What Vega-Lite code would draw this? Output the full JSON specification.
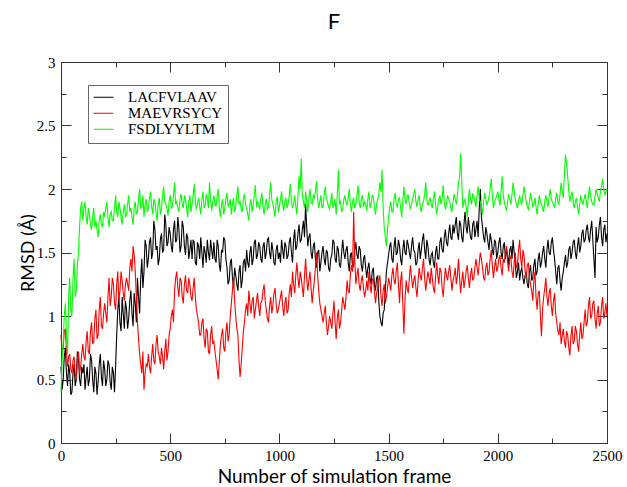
{
"$schema": "https://vega.github.io/schema/vega-lite/v6.json",
"width": 546, "height": 381,
"autosize": {"type": "none"},
"padding": {"left": 61, "top": 62, "right": 20, "bottom": 44},
"background": "white",
"title": {"text": "F", "font": "Lato", "fontSize": 22, "fontWeight": "normal", "anchor": "middle", "offset": 21, "color": "black"},
"config": {
  "view": {"stroke": "#333", "strokeWidth": 1},
  "axis": {"grid": false, "domainColor": "#333", "tickColor": "#333", "labelColor": "black", "labelFont": "Liberation Serif", "labelFontSize": 15, "titleFont": "Lato", "titleFontSize": 18, "titleFontWeight": "normal", "titleColor": "black", "labelFlush": false, "labelOverlap": false}
},
"resolve": {"axis": {"x": "independent", "y": "independent"}},
"datasets": {
"L": [{"x":0,"y":0.6},{"x":10,"y":0.5},{"x":20,"y":0.75},{"x":30,"y":0.45},{"x":40,"y":0.55},{"x":50,"y":0.4},{"x":60,"y":0.62},{"x":70,"y":0.5},{"x":80,"y":0.68},{"x":90,"y":0.45},
{"x":100,"y":0.55},{"x":110,"y":0.42},{"x":120,"y":0.6},{"x":130,"y":0.5},{"x":140,"y":0.65},{"x":150,"y":0.4},{"x":160,"y":0.55},{"x":170,"y":0.48},{"x":180,"y":0.7},{"x":190,"y":0.45},
{"x":200,"y":0.58},{"x":210,"y":0.5},{"x":220,"y":0.62},{"x":230,"y":0.42},{"x":240,"y":0.55},{"x":250,"y":0.6},{"x":260,"y":1.05},{"x":270,"y":0.95},{"x":280,"y":1.15},{"x":290,"y":0.9},
{"x":300,"y":1.05},{"x":310,"y":0.98},{"x":320,"y":1.2},{"x":330,"y":0.92},{"x":340,"y":1.1},{"x":350,"y":1.3},{"x":360,"y":1.02},{"x":370,"y":1.45},{"x":380,"y":1.35},{"x":390,"y":1.55},
{"x":400,"y":1.45},{"x":410,"y":1.62},{"x":420,"y":1.5},{"x":430,"y":1.68},{"x":440,"y":1.55},{"x":450,"y":1.45},{"x":460,"y":1.65},{"x":470,"y":1.52},{"x":480,"y":1.72},{"x":490,"y":1.58},
{"x":500,"y":1.65},{"x":510,"y":1.5},{"x":520,"y":1.75},{"x":530,"y":1.6},{"x":540,"y":1.68},{"x":550,"y":1.55},{"x":560,"y":1.7},{"x":570,"y":1.48},{"x":580,"y":1.62},{"x":590,"y":1.52},
{"x":600,"y":1.45},{"x":610,"y":1.58},{"x":620,"y":1.4},{"x":630,"y":1.55},{"x":640,"y":1.62},{"x":650,"y":1.38},{"x":660,"y":1.5},{"x":670,"y":1.6},{"x":680,"y":1.44},{"x":690,"y":1.52},
{"x":700,"y":1.58},{"x":710,"y":1.42},{"x":720,"y":1.55},{"x":730,"y":1.35},{"x":740,"y":1.5},{"x":750,"y":1.6},{"x":760,"y":1.38},{"x":770,"y":1.28},{"x":780,"y":1.45},{"x":790,"y":1.22},
{"x":800,"y":1.32},{"x":810,"y":1.2},{"x":820,"y":1.4},{"x":830,"y":1.28},{"x":840,"y":1.45},{"x":850,"y":1.52},{"x":860,"y":1.38},{"x":870,"y":1.55},{"x":880,"y":1.45},{"x":890,"y":1.6},
{"x":900,"y":1.48},{"x":910,"y":1.55},{"x":920,"y":1.42},{"x":930,"y":1.58},{"x":940,"y":1.5},{"x":950,"y":1.62},{"x":960,"y":1.45},{"x":970,"y":1.52},{"x":980,"y":1.4},{"x":990,"y":1.56},
{"x":1000,"y":1.5},{"x":1010,"y":1.6},{"x":1020,"y":1.45},{"x":1030,"y":1.55},{"x":1040,"y":1.48},{"x":1050,"y":1.62},{"x":1060,"y":1.42},{"x":1070,"y":1.68},{"x":1080,"y":1.55},{"x":1090,"y":1.72},
{"x":1100,"y":1.6},{"x":1110,"y":1.75},{"x":1120,"y":1.88},{"x":1130,"y":1.55},{"x":1140,"y":1.65},{"x":1150,"y":1.45},{"x":1160,"y":1.58},{"x":1170,"y":1.38},{"x":1180,"y":1.52},{"x":1190,"y":1.42},
{"x":1200,"y":1.55},{"x":1210,"y":1.4},{"x":1220,"y":1.5},{"x":1230,"y":1.35},{"x":1240,"y":1.48},{"x":1250,"y":1.58},{"x":1260,"y":1.42},{"x":1270,"y":1.52},{"x":1280,"y":1.38},{"x":1290,"y":1.6},
{"x":1300,"y":1.45},{"x":1310,"y":1.55},{"x":1320,"y":1.35},{"x":1330,"y":1.5},{"x":1340,"y":1.4},{"x":1350,"y":1.58},{"x":1360,"y":1.45},{"x":1370,"y":1.52},{"x":1380,"y":1.35},{"x":1390,"y":1.48},
{"x":1400,"y":1.3},{"x":1410,"y":1.42},{"x":1420,"y":1.25},{"x":1430,"y":1.38},{"x":1440,"y":1.2},{"x":1450,"y":1.32},{"x":1460,"y":1.0},{"x":1470,"y":0.92},{"x":1480,"y":1.05},{"x":1490,"y":1.35},
{"x":1500,"y":1.48},{"x":1510,"y":1.58},{"x":1520,"y":1.42},{"x":1530,"y":1.62},{"x":1540,"y":1.5},{"x":1550,"y":1.55},{"x":1560,"y":1.4},{"x":1570,"y":1.6},{"x":1580,"y":1.48},{"x":1590,"y":1.56},
{"x":1600,"y":1.45},{"x":1610,"y":1.62},{"x":1620,"y":1.5},{"x":1630,"y":1.42},{"x":1640,"y":1.58},{"x":1650,"y":1.52},{"x":1660,"y":1.65},{"x":1670,"y":1.45},{"x":1680,"y":1.55},{"x":1690,"y":1.4},
{"x":1700,"y":1.5},{"x":1710,"y":1.38},{"x":1720,"y":1.55},{"x":1730,"y":1.45},{"x":1740,"y":1.62},{"x":1750,"y":1.5},{"x":1760,"y":1.68},{"x":1770,"y":1.55},{"x":1780,"y":1.72},{"x":1790,"y":1.6},
{"x":1800,"y":1.65},{"x":1810,"y":1.78},{"x":1820,"y":1.6},{"x":1830,"y":1.72},{"x":1840,"y":1.58},{"x":1850,"y":1.82},{"x":1860,"y":1.65},{"x":1870,"y":1.7},{"x":1880,"y":1.6},{"x":1890,"y":1.75},
{"x":1900,"y":1.68},{"x":1910,"y":1.62},{"x":1920,"y":2.0},{"x":1930,"y":1.7},{"x":1940,"y":1.58},{"x":1950,"y":1.65},{"x":1960,"y":1.52},{"x":1970,"y":1.6},{"x":1980,"y":1.48},{"x":1990,"y":1.58},
{"x":2000,"y":1.5},{"x":2010,"y":1.62},{"x":2020,"y":1.45},{"x":2030,"y":1.58},{"x":2040,"y":1.52},{"x":2050,"y":1.4},{"x":2060,"y":1.55},{"x":2070,"y":1.6},{"x":2080,"y":1.42},{"x":2090,"y":1.35},
{"x":2100,"y":1.28},{"x":2110,"y":1.38},{"x":2120,"y":1.25},{"x":2130,"y":1.35},{"x":2140,"y":1.22},{"x":2150,"y":1.4},{"x":2160,"y":1.3},{"x":2170,"y":1.45},{"x":2180,"y":1.35},{"x":2190,"y":1.5},
{"x":2200,"y":1.42},{"x":2210,"y":1.55},{"x":2220,"y":1.38},{"x":2230,"y":1.6},{"x":2240,"y":1.48},{"x":2250,"y":1.62},{"x":2260,"y":1.45},{"x":2270,"y":1.25},{"x":2280,"y":1.4},{"x":2290,"y":1.2},
{"x":2300,"y":1.35},{"x":2310,"y":1.48},{"x":2320,"y":1.42},{"x":2330,"y":1.55},{"x":2340,"y":1.5},{"x":2350,"y":1.6},{"x":2360,"y":1.45},{"x":2370,"y":1.62},{"x":2380,"y":1.55},{"x":2390,"y":1.68},
{"x":2400,"y":1.6},{"x":2410,"y":1.72},{"x":2420,"y":1.58},{"x":2430,"y":1.75},{"x":2440,"y":1.45},{"x":2450,"y":1.7},{"x":2460,"y":1.62},{"x":2470,"y":1.78},{"x":2480,"y":1.55},{"x":2490,"y":1.72},
{"x":2500,"y":1.65},
{"x":5,"y":0.42},{"x":15,"y":0.68},{"x":25,"y":0.55},{"x":35,"y":0.62},{"x":45,"y":0.38},{"x":55,"y":0.55},{"x":65,"y":0.45},{"x":75,"y":0.72},{"x":85,"y":0.5},{"x":95,"y":0.6},
{"x":105,"y":0.62},{"x":115,"y":0.52},{"x":125,"y":0.45},{"x":135,"y":0.7},{"x":145,"y":0.5},{"x":155,"y":0.6},{"x":165,"y":0.38},{"x":175,"y":0.62},{"x":185,"y":0.52},{"x":195,"y":0.65},
{"x":205,"y":0.45},{"x":215,"y":0.65},{"x":225,"y":0.48},{"x":235,"y":0.6},{"x":245,"y":0.4},{"x":255,"y":0.85},{"x":265,"y":1.15},{"x":275,"y":0.88},{"x":285,"y":1.02},{"x":295,"y":1.12},
{"x":305,"y":0.9},{"x":315,"y":1.12},{"x":325,"y":1.02},{"x":335,"y":1.18},{"x":345,"y":0.95},{"x":355,"y":1.15},{"x":365,"y":1.3},{"x":375,"y":1.22},{"x":385,"y":1.6},{"x":395,"y":1.38},
{"x":405,"y":1.58},{"x":415,"y":1.45},{"x":425,"y":1.75},{"x":435,"y":1.52},{"x":445,"y":1.4},{"x":455,"y":1.6},{"x":465,"y":1.5},{"x":475,"y":1.8},{"x":485,"y":1.55},{"x":495,"y":1.7},
{"x":505,"y":1.55},{"x":515,"y":1.68},{"x":525,"y":1.58},{"x":535,"y":1.78},{"x":545,"y":1.5},{"x":555,"y":1.75},{"x":565,"y":1.55},{"x":575,"y":1.65},{"x":585,"y":1.45},{"x":595,"y":1.6},
{"x":605,"y":1.6},{"x":615,"y":1.42},{"x":625,"y":1.58},{"x":635,"y":1.45},{"x":645,"y":1.5},{"x":655,"y":1.55},{"x":665,"y":1.42},{"x":675,"y":1.5},{"x":685,"y":1.6},{"x":695,"y":1.45},
{"x":705,"y":1.45},{"x":715,"y":1.6},{"x":725,"y":1.4},{"x":735,"y":1.52},{"x":745,"y":1.62},{"x":755,"y":1.45},{"x":765,"y":1.25},{"x":775,"y":1.42},{"x":785,"y":1.3},{"x":795,"y":1.38},
{"x":805,"y":1.25},{"x":815,"y":1.35},{"x":825,"y":1.22},{"x":835,"y":1.42},{"x":845,"y":1.35},{"x":855,"y":1.42},{"x":865,"y":1.5},{"x":875,"y":1.4},{"x":885,"y":1.58},{"x":895,"y":1.45},
{"x":905,"y":1.58},{"x":915,"y":1.45},{"x":925,"y":1.55},{"x":935,"y":1.45},{"x":945,"y":1.6},{"x":955,"y":1.5},{"x":965,"y":1.58},{"x":975,"y":1.42},{"x":985,"y":1.52},{"x":995,"y":1.45},
{"x":1005,"y":1.42},{"x":1015,"y":1.52},{"x":1025,"y":1.58},{"x":1035,"y":1.45},{"x":1045,"y":1.58},{"x":1055,"y":1.5},{"x":1065,"y":1.6},{"x":1075,"y":1.52},{"x":1085,"y":1.65},{"x":1095,"y":1.58},
{"x":1105,"y":1.68},{"x":1115,"y":1.62},{"x":1125,"y":1.7},{"x":1135,"y":1.62},{"x":1145,"y":1.5},{"x":1155,"y":1.55},{"x":1165,"y":1.45},{"x":1175,"y":1.5},{"x":1185,"y":1.35},{"x":1195,"y":1.5},
{"x":1205,"y":1.45},{"x":1215,"y":1.52},{"x":1225,"y":1.38},{"x":1235,"y":1.45},{"x":1245,"y":1.6},{"x":1255,"y":1.45},{"x":1265,"y":1.55},{"x":1275,"y":1.4},{"x":1285,"y":1.5},{"x":1295,"y":1.5},
{"x":1305,"y":1.52},{"x":1315,"y":1.42},{"x":1325,"y":1.48},{"x":1335,"y":1.38},{"x":1345,"y":1.52},{"x":1355,"y":1.48},{"x":1365,"y":1.55},{"x":1375,"y":1.4},{"x":1385,"y":1.45},{"x":1395,"y":1.38},
{"x":1405,"y":1.38},{"x":1415,"y":1.3},{"x":1425,"y":1.35},{"x":1435,"y":1.25},{"x":1445,"y":1.3},{"x":1455,"y":1.12},{"x":1465,"y":0.95},{"x":1475,"y":1.02},{"x":1485,"y":1.2},{"x":1495,"y":1.42},
{"x":1505,"y":1.55},{"x":1515,"y":1.45},{"x":1525,"y":1.55},{"x":1535,"y":1.48},{"x":1545,"y":1.6},{"x":1555,"y":1.45},{"x":1565,"y":1.52},{"x":1575,"y":1.5},{"x":1585,"y":1.6},{"x":1595,"y":1.5},
{"x":1605,"y":1.55},{"x":1615,"y":1.52},{"x":1625,"y":1.4},{"x":1635,"y":1.52},{"x":1645,"y":1.45},{"x":1655,"y":1.6},{"x":1665,"y":1.52},{"x":1675,"y":1.6},{"x":1685,"y":1.45},{"x":1695,"y":1.48},
{"x":1705,"y":1.42},{"x":1715,"y":1.5},{"x":1725,"y":1.45},{"x":1735,"y":1.58},{"x":1745,"y":1.52},{"x":1755,"y":1.62},{"x":1765,"y":1.58},{"x":1775,"y":1.65},{"x":1785,"y":1.62},{"x":1795,"y":1.72},
{"x":1805,"y":1.72},{"x":1815,"y":1.65},{"x":1825,"y":1.75},{"x":1835,"y":1.62},{"x":1845,"y":1.72},{"x":1855,"y":1.7},{"x":1865,"y":1.78},{"x":1875,"y":1.62},{"x":1885,"y":1.72},{"x":1895,"y":1.62},
{"x":1905,"y":1.75},{"x":1915,"y":1.85},{"x":1925,"y":1.78},{"x":1935,"y":1.62},{"x":1945,"y":1.7},{"x":1955,"y":1.58},{"x":1965,"y":1.65},{"x":1975,"y":1.52},{"x":1985,"y":1.6},{"x":1995,"y":1.45},
{"x":2005,"y":1.58},{"x":2015,"y":1.5},{"x":2025,"y":1.55},{"x":2035,"y":1.45},{"x":2045,"y":1.48},{"x":2055,"y":1.52},{"x":2065,"y":1.45},{"x":2075,"y":1.5},{"x":2085,"y":1.3},{"x":2095,"y":1.42},
{"x":2105,"y":1.35},{"x":2115,"y":1.3},{"x":2125,"y":1.32},{"x":2135,"y":1.25},{"x":2145,"y":1.35},{"x":2155,"y":1.28},{"x":2165,"y":1.4},{"x":2175,"y":1.32},{"x":2185,"y":1.45},{"x":2195,"y":1.38},
{"x":2205,"y":1.5},{"x":2215,"y":1.45},{"x":2225,"y":1.52},{"x":2235,"y":1.5},{"x":2245,"y":1.58},{"x":2255,"y":1.52},{"x":2265,"y":1.35},{"x":2275,"y":1.38},{"x":2285,"y":1.28},{"x":2295,"y":1.3},
{"x":2305,"y":1.42},{"x":2315,"y":1.38},{"x":2325,"y":1.52},{"x":2335,"y":1.45},{"x":2345,"y":1.58},{"x":2355,"y":1.5},{"x":2365,"y":1.55},{"x":2375,"y":1.5},{"x":2385,"y":1.65},{"x":2395,"y":1.58},
{"x":2405,"y":1.68},{"x":2415,"y":1.62},{"x":2425,"y":1.68},{"x":2435,"y":1.6},{"x":2445,"y":1.3},{"x":2455,"y":1.58},{"x":2465,"y":1.72},{"x":2475,"y":1.62},{"x":2485,"y":1.68},{"x":2495,"y":1.58}],
"M": [{"x":0,"y":0.85},{"x":10,"y":0.75},{"x":20,"y":0.9},{"x":30,"y":0.6},{"x":40,"y":0.7},{"x":50,"y":0.55},{"x":60,"y":0.68},{"x":70,"y":0.5},{"x":80,"y":0.72},{"x":90,"y":0.6},
{"x":100,"y":0.78},{"x":110,"y":0.65},{"x":120,"y":0.88},{"x":130,"y":0.7},{"x":140,"y":0.95},{"x":150,"y":0.8},{"x":160,"y":1.05},{"x":170,"y":0.85},{"x":180,"y":1.15},{"x":190,"y":0.9},
{"x":200,"y":1.1},{"x":210,"y":0.95},{"x":220,"y":1.3},{"x":230,"y":1.15},{"x":240,"y":1.25},{"x":250,"y":1.05},{"x":260,"y":1.35},{"x":270,"y":1.2},{"x":280,"y":1.28},{"x":290,"y":1.12},
{"x":300,"y":1.3},{"x":310,"y":1.2},{"x":320,"y":1.45},{"x":330,"y":1.55},{"x":340,"y":1.35},{"x":350,"y":0.95},{"x":360,"y":0.7},{"x":370,"y":0.55},{"x":380,"y":0.42},{"x":390,"y":0.62},
{"x":400,"y":0.7},{"x":410,"y":0.55},{"x":420,"y":0.78},{"x":430,"y":0.62},{"x":440,"y":0.85},{"x":450,"y":0.68},{"x":460,"y":0.75},{"x":470,"y":0.58},{"x":480,"y":0.82},{"x":490,"y":0.72},
{"x":500,"y":0.9},{"x":510,"y":1.05},{"x":520,"y":1.2},{"x":530,"y":1.35},{"x":540,"y":1.15},{"x":550,"y":1.28},{"x":560,"y":1.1},{"x":570,"y":1.32},{"x":580,"y":1.18},{"x":590,"y":1.25},
{"x":600,"y":1.12},{"x":610,"y":1.3},{"x":620,"y":1.05},{"x":630,"y":0.95},{"x":640,"y":0.85},{"x":650,"y":0.98},{"x":660,"y":0.75},{"x":670,"y":0.88},{"x":680,"y":0.7},{"x":690,"y":0.92},
{"x":700,"y":0.8},{"x":710,"y":0.65},{"x":720,"y":0.5},{"x":730,"y":0.78},{"x":740,"y":0.9},{"x":750,"y":0.72},{"x":760,"y":0.95},{"x":770,"y":0.85},{"x":780,"y":1.1},{"x":790,"y":1.3},
{"x":800,"y":1.0},{"x":810,"y":0.85},{"x":820,"y":0.52},{"x":830,"y":0.75},{"x":840,"y":0.95},{"x":850,"y":1.1},{"x":860,"y":1.2},{"x":870,"y":1.02},{"x":880,"y":1.15},{"x":890,"y":1.05},
{"x":900,"y":1.18},{"x":910,"y":1.0},{"x":920,"y":1.12},{"x":930,"y":1.25},{"x":940,"y":1.05},{"x":950,"y":0.95},{"x":960,"y":1.15},{"x":970,"y":1.08},{"x":980,"y":1.22},{"x":990,"y":1.02},
{"x":1000,"y":1.1},{"x":1010,"y":1.2},{"x":1020,"y":1.0},{"x":1030,"y":1.15},{"x":1040,"y":1.05},{"x":1050,"y":1.25},{"x":1060,"y":1.35},{"x":1070,"y":1.18},{"x":1080,"y":1.42},{"x":1090,"y":1.22},
{"x":1100,"y":1.3},{"x":1110,"y":1.15},{"x":1120,"y":1.45},{"x":1130,"y":1.2},{"x":1140,"y":1.35},{"x":1150,"y":1.1},{"x":1160,"y":1.28},{"x":1170,"y":1.5},{"x":1180,"y":1.2},{"x":1190,"y":1.05},
{"x":1200,"y":0.95},{"x":1210,"y":1.08},{"x":1220,"y":0.85},{"x":1230,"y":1.0},{"x":1240,"y":0.9},{"x":1250,"y":1.12},{"x":1260,"y":0.82},{"x":1270,"y":1.05},{"x":1280,"y":0.95},{"x":1290,"y":1.15},
{"x":1300,"y":1.05},{"x":1310,"y":1.28},{"x":1320,"y":1.18},{"x":1330,"y":1.4},{"x":1340,"y":1.82},{"x":1350,"y":1.25},{"x":1360,"y":1.38},{"x":1370,"y":1.2},{"x":1380,"y":1.32},{"x":1390,"y":1.15},
{"x":1400,"y":1.28},{"x":1410,"y":1.35},{"x":1420,"y":1.18},{"x":1430,"y":1.3},{"x":1440,"y":1.1},{"x":1450,"y":1.22},{"x":1460,"y":1.32},{"x":1470,"y":1.08},{"x":1480,"y":1.25},{"x":1490,"y":1.15},
{"x":1500,"y":1.3},{"x":1510,"y":1.2},{"x":1520,"y":1.38},{"x":1530,"y":1.25},{"x":1540,"y":1.42},{"x":1550,"y":1.1},{"x":1560,"y":1.35},{"x":1570,"y":0.86},{"x":1580,"y":1.28},{"x":1590,"y":1.18},
{"x":1600,"y":1.4},{"x":1610,"y":1.22},{"x":1620,"y":1.32},{"x":1630,"y":1.15},{"x":1640,"y":1.38},{"x":1650,"y":1.28},{"x":1660,"y":1.45},{"x":1670,"y":1.2},{"x":1680,"y":1.35},{"x":1690,"y":1.25},
{"x":1700,"y":1.3},{"x":1710,"y":1.18},{"x":1720,"y":1.42},{"x":1730,"y":1.25},{"x":1740,"y":1.35},{"x":1750,"y":1.15},{"x":1760,"y":1.38},{"x":1770,"y":1.28},{"x":1780,"y":1.4},{"x":1790,"y":1.2},
{"x":1800,"y":1.32},{"x":1810,"y":1.25},{"x":1820,"y":1.45},{"x":1830,"y":1.18},{"x":1840,"y":1.35},{"x":1850,"y":1.28},{"x":1860,"y":1.4},{"x":1870,"y":1.22},{"x":1880,"y":1.38},{"x":1890,"y":1.3},
{"x":1900,"y":1.45},{"x":1910,"y":1.32},{"x":1920,"y":1.5},{"x":1930,"y":1.38},{"x":1940,"y":1.28},{"x":1950,"y":1.42},{"x":1960,"y":1.35},{"x":1970,"y":1.52},{"x":1980,"y":1.3},{"x":1990,"y":1.45},
{"x":2000,"y":1.38},{"x":2010,"y":1.48},{"x":2020,"y":1.32},{"x":2030,"y":1.42},{"x":2040,"y":1.55},{"x":2050,"y":1.35},{"x":2060,"y":1.45},{"x":2070,"y":1.3},{"x":2080,"y":1.5},{"x":2090,"y":1.4},
{"x":2100,"y":1.6},{"x":2110,"y":1.38},{"x":2120,"y":1.48},{"x":2130,"y":1.3},{"x":2140,"y":1.42},{"x":2150,"y":1.25},{"x":2160,"y":1.12},{"x":2170,"y":1.35},{"x":2180,"y":1.05},{"x":2190,"y":1.2},
{"x":2200,"y":0.84},{"x":2210,"y":1.15},{"x":2220,"y":1.3},{"x":2230,"y":1.08},{"x":2240,"y":1.22},{"x":2250,"y":1.0},{"x":2260,"y":1.18},{"x":2270,"y":0.95},{"x":2280,"y":0.85},{"x":2290,"y":0.78},
{"x":2300,"y":0.9},{"x":2310,"y":0.75},{"x":2320,"y":0.85},{"x":2330,"y":0.69},{"x":2340,"y":0.92},{"x":2350,"y":0.8},{"x":2360,"y":0.88},{"x":2370,"y":0.72},{"x":2380,"y":0.95},{"x":2390,"y":0.85},
{"x":2400,"y":1.05},{"x":2410,"y":0.95},{"x":2420,"y":1.15},{"x":2430,"y":1.0},{"x":2440,"y":1.12},{"x":2450,"y":0.9},{"x":2460,"y":1.08},{"x":2470,"y":0.95},{"x":2480,"y":1.15},{"x":2490,"y":1.02},
{"x":2500,"y":1.0},
{"x":5,"y":0.7},{"x":15,"y":0.88},{"x":25,"y":0.72},{"x":35,"y":0.68},{"x":45,"y":0.58},{"x":55,"y":0.65},{"x":65,"y":0.55},{"x":75,"y":0.65},{"x":85,"y":0.55},{"x":95,"y":0.7},
{"x":105,"y":0.68},{"x":115,"y":0.8},{"x":125,"y":0.72},{"x":135,"y":0.88},{"x":145,"y":0.78},{"x":155,"y":0.98},{"x":165,"y":0.82},{"x":175,"y":1.05},{"x":185,"y":0.92},{"x":195,"y":1.02},
{"x":205,"y":1.02},{"x":215,"y":1.15},{"x":225,"y":1.08},{"x":235,"y":1.3},{"x":245,"y":1.1},{"x":255,"y":1.25},{"x":265,"y":1.12},{"x":275,"y":1.35},{"x":285,"y":1.18},{"x":295,"y":1.25},
{"x":305,"y":1.25},{"x":315,"y":1.38},{"x":325,"y":1.35},{"x":335,"y":1.48},{"x":345,"y":1.15},{"x":355,"y":0.82},{"x":365,"y":0.62},{"x":375,"y":0.72},{"x":385,"y":0.55},{"x":395,"y":0.6},
{"x":405,"y":0.6},{"x":415,"y":0.68},{"x":425,"y":0.65},{"x":435,"y":0.78},{"x":445,"y":0.72},{"x":455,"y":0.62},{"x":465,"y":0.68},{"x":475,"y":0.72},{"x":485,"y":0.65},{"x":495,"y":0.85},
{"x":505,"y":1.0},{"x":515,"y":0.95},{"x":525,"y":1.3},{"x":535,"y":1.22},{"x":545,"y":1.3},{"x":555,"y":1.15},{"x":565,"y":1.25},{"x":575,"y":1.2},{"x":585,"y":1.3},{"x":595,"y":1.15},
{"x":605,"y":1.22},{"x":615,"y":1.15},{"x":625,"y":1.0},{"x":635,"y":0.85},{"x":645,"y":0.95},{"x":655,"y":0.82},{"x":665,"y":0.9},{"x":675,"y":0.72},{"x":685,"y":0.85},{"x":695,"y":0.78},
{"x":705,"y":0.72},{"x":715,"y":0.58},{"x":725,"y":0.65},{"x":735,"y":0.85},{"x":745,"y":0.75},{"x":755,"y":0.88},{"x":765,"y":0.8},{"x":775,"y":1.0},{"x":785,"y":1.2},{"x":795,"y":1.12},
{"x":805,"y":0.9},{"x":815,"y":0.65},{"x":825,"y":0.62},{"x":835,"y":0.88},{"x":845,"y":1.05},{"x":855,"y":1.0},{"x":865,"y":1.1},{"x":875,"y":1.12},{"x":885,"y":0.98},{"x":895,"y":1.12},
{"x":905,"y":1.08},{"x":915,"y":1.1},{"x":925,"y":1.2},{"x":935,"y":1.12},{"x":945,"y":0.98},{"x":955,"y":1.08},{"x":965,"y":1.02},{"x":975,"y":1.18},{"x":985,"y":1.1},{"x":995,"y":1.05},
{"x":1005,"y":1.15},{"x":1015,"y":1.08},{"x":1025,"y":1.1},{"x":1035,"y":1.02},{"x":1045,"y":1.18},{"x":1055,"y":1.15},{"x":1065,"y":1.25},{"x":1075,"y":1.32},{"x":1085,"y":1.3},{"x":1095,"y":1.35},
{"x":1105,"y":1.22},{"x":1115,"y":1.32},{"x":1125,"y":1.3},{"x":1135,"y":1.28},{"x":1145,"y":1.22},{"x":1155,"y":1.2},{"x":1165,"y":1.38},{"x":1175,"y":1.32},{"x":1185,"y":1.1},{"x":1195,"y":1.0},
{"x":1205,"y":1.02},{"x":1215,"y":0.95},{"x":1225,"y":0.92},{"x":1235,"y":0.95},{"x":1245,"y":1.02},{"x":1255,"y":0.95},{"x":1265,"y":0.98},{"x":1275,"y":0.9},{"x":1285,"y":1.05},{"x":1295,"y":1.1},
{"x":1305,"y":1.15},{"x":1315,"y":1.2},{"x":1325,"y":1.32},{"x":1335,"y":1.35},{"x":1345,"y":1.45},{"x":1355,"y":1.32},{"x":1365,"y":1.25},{"x":1375,"y":1.28},{"x":1385,"y":1.22},{"x":1395,"y":1.2},
{"x":1405,"y":1.2},{"x":1415,"y":1.25},{"x":1425,"y":1.28},{"x":1435,"y":1.2},{"x":1445,"y":1.18},{"x":1455,"y":1.28},{"x":1465,"y":1.15},{"x":1475,"y":1.2},{"x":1485,"y":1.1},{"x":1495,"y":1.22},
{"x":1505,"y":1.25},{"x":1515,"y":1.32},{"x":1525,"y":1.28},{"x":1535,"y":1.35},{"x":1545,"y":1.25},{"x":1555,"y":1.28},{"x":1565,"y":1.1},{"x":1575,"y":1.12},{"x":1585,"y":1.22},{"x":1595,"y":1.3},
{"x":1605,"y":1.3},{"x":1615,"y":1.28},{"x":1625,"y":1.22},{"x":1635,"y":1.28},{"x":1645,"y":1.32},{"x":1655,"y":1.38},{"x":1665,"y":1.3},{"x":1675,"y":1.28},{"x":1685,"y":1.3},{"x":1695,"y":1.38},
{"x":1705,"y":1.22},{"x":1715,"y":1.3},{"x":1725,"y":1.32},{"x":1735,"y":1.38},{"x":1745,"y":1.22},{"x":1755,"y":1.28},{"x":1765,"y":1.32},{"x":1775,"y":1.35},{"x":1785,"y":1.3},{"x":1795,"y":1.28},
{"x":1805,"y":1.38},{"x":1815,"y":1.32},{"x":1825,"y":1.3},{"x":1835,"y":1.28},{"x":1845,"y":1.22},{"x":1855,"y":1.35},{"x":1865,"y":1.3},{"x":1875,"y":1.32},{"x":1885,"y":1.28},{"x":1895,"y":1.38},
{"x":1905,"y":1.38},{"x":1915,"y":1.42},{"x":1925,"y":1.45},{"x":1935,"y":1.3},{"x":1945,"y":1.38},{"x":1955,"y":1.32},{"x":1965,"y":1.45},{"x":1975,"y":1.4},{"x":1985,"y":1.38},{"x":1995,"y":1.35},
{"x":2005,"y":1.45},{"x":2015,"y":1.38},{"x":2025,"y":1.45},{"x":2035,"y":1.5},{"x":2045,"y":1.42},{"x":2055,"y":1.48},{"x":2065,"y":1.35},{"x":2075,"y":1.42},{"x":2085,"y":1.38},{"x":2095,"y":1.52},
{"x":2105,"y":1.45},{"x":2115,"y":1.52},{"x":2125,"y":1.35},{"x":2135,"y":1.4},{"x":2145,"y":1.3},{"x":2155,"y":1.2},{"x":2165,"y":1.28},{"x":2175,"y":1.15},{"x":2185,"y":1.18},{"x":2195,"y":1.0},
{"x":2205,"y":1.05},{"x":2215,"y":1.22},{"x":2225,"y":1.15},{"x":2235,"y":1.18},{"x":2245,"y":1.08},{"x":2255,"y":1.12},{"x":2265,"y":1.02},{"x":2275,"y":0.88},{"x":2285,"y":0.95},{"x":2295,"y":0.85},
{"x":2305,"y":0.8},{"x":2315,"y":0.88},{"x":2325,"y":0.75},{"x":2335,"y":0.85},{"x":2345,"y":0.78},{"x":2355,"y":0.92},{"x":2365,"y":0.78},{"x":2375,"y":0.85},{"x":2385,"y":0.82},{"x":2395,"y":0.95},
{"x":2405,"y":0.92},{"x":2415,"y":1.08},{"x":2425,"y":0.98},{"x":2435,"y":1.1},{"x":2445,"y":0.98},{"x":2455,"y":1.02},{"x":2465,"y":0.92},{"x":2475,"y":1.08},{"x":2485,"y":0.98},{"x":2495,"y":1.1}],
"G": [{"x":0,"y":0.4},{"x":10,"y":0.8},{"x":20,"y":1.1},{"x":30,"y":0.7},{"x":40,"y":1.3},{"x":50,"y":1.0},{"x":60,"y":1.45},{"x":70,"y":1.2},{"x":80,"y":1.5},{"x":90,"y":1.85},
{"x":100,"y":1.75},{"x":110,"y":1.9},{"x":120,"y":1.72},{"x":130,"y":1.8},{"x":140,"y":1.68},{"x":150,"y":1.85},{"x":160,"y":1.75},{"x":170,"y":1.62},{"x":180,"y":1.8},{"x":190,"y":1.7},
{"x":200,"y":1.78},{"x":210,"y":1.9},{"x":220,"y":1.7},{"x":230,"y":1.82},{"x":240,"y":1.75},{"x":250,"y":1.95},{"x":260,"y":1.78},{"x":270,"y":1.85},{"x":280,"y":1.72},{"x":290,"y":1.88},
{"x":300,"y":1.8},{"x":310,"y":1.95},{"x":320,"y":1.85},{"x":330,"y":1.72},{"x":340,"y":1.9},{"x":350,"y":1.82},{"x":360,"y":2.0},{"x":370,"y":1.86},{"x":380,"y":1.78},{"x":390,"y":1.92},
{"x":400,"y":1.85},{"x":410,"y":1.98},{"x":420,"y":1.8},{"x":430,"y":1.9},{"x":440,"y":1.75},{"x":450,"y":1.93},{"x":460,"y":1.84},{"x":470,"y":2.02},{"x":480,"y":1.88},{"x":490,"y":1.79},
{"x":500,"y":1.95},{"x":510,"y":1.86},{"x":520,"y":2.05},{"x":530,"y":1.9},{"x":540,"y":1.82},{"x":550,"y":1.96},{"x":560,"y":1.85},{"x":570,"y":1.92},{"x":580,"y":1.78},{"x":590,"y":1.95},
{"x":600,"y":1.88},{"x":610,"y":2.04},{"x":620,"y":1.84},{"x":630,"y":1.93},{"x":640,"y":1.8},{"x":650,"y":1.98},{"x":660,"y":1.87},{"x":670,"y":1.92},{"x":680,"y":2.05},{"x":690,"y":1.83},
{"x":700,"y":1.95},{"x":710,"y":1.86},{"x":720,"y":2.0},{"x":730,"y":1.78},{"x":740,"y":1.92},{"x":750,"y":1.85},{"x":760,"y":1.97},{"x":770,"y":1.88},{"x":780,"y":1.8},{"x":790,"y":1.93},
{"x":800,"y":1.86},{"x":810,"y":2.02},{"x":820,"y":1.9},{"x":830,"y":1.82},{"x":840,"y":1.96},{"x":850,"y":1.85},{"x":860,"y":1.75},{"x":870,"y":1.92},{"x":880,"y":1.88},{"x":890,"y":2.03},
{"x":900,"y":1.9},{"x":910,"y":1.84},{"x":920,"y":1.97},{"x":930,"y":1.8},{"x":940,"y":1.92},{"x":950,"y":1.86},{"x":960,"y":2.05},{"x":970,"y":1.88},{"x":980,"y":1.78},{"x":990,"y":1.94},
{"x":1000,"y":1.86},{"x":1010,"y":1.98},{"x":1020,"y":1.83},{"x":1030,"y":1.93},{"x":1040,"y":1.88},{"x":1050,"y":2.04},{"x":1060,"y":1.85},{"x":1070,"y":1.95},{"x":1080,"y":1.8},{"x":1090,"y":2.1},
{"x":1100,"y":2.24},{"x":1110,"y":1.9},{"x":1120,"y":1.98},{"x":1130,"y":1.82},{"x":1140,"y":2.0},{"x":1150,"y":1.88},{"x":1160,"y":1.93},{"x":1170,"y":2.06},{"x":1180,"y":1.85},{"x":1190,"y":1.95},
{"x":1200,"y":1.87},{"x":1210,"y":2.02},{"x":1220,"y":1.9},{"x":1230,"y":1.84},{"x":1240,"y":1.97},{"x":1250,"y":1.88},{"x":1260,"y":1.8},{"x":1270,"y":2.15},{"x":1280,"y":1.9},{"x":1290,"y":1.85},
{"x":1300,"y":1.95},{"x":1310,"y":1.87},{"x":1320,"y":2.0},{"x":1330,"y":1.82},{"x":1340,"y":1.93},{"x":1350,"y":1.88},{"x":1360,"y":2.03},{"x":1370,"y":1.85},{"x":1380,"y":1.95},{"x":1390,"y":1.9},
{"x":1400,"y":1.83},{"x":1410,"y":1.98},{"x":1420,"y":1.88},{"x":1430,"y":1.94},{"x":1440,"y":1.8},{"x":1450,"y":1.92},{"x":1460,"y":2.05},{"x":1470,"y":2.15},{"x":1480,"y":1.7},{"x":1490,"y":1.55},
{"x":1500,"y":1.78},{"x":1510,"y":1.9},{"x":1520,"y":1.82},{"x":1530,"y":1.97},{"x":1540,"y":1.86},{"x":1550,"y":1.93},{"x":1560,"y":1.78},{"x":1570,"y":2.02},{"x":1580,"y":1.88},{"x":1590,"y":1.95},
{"x":1600,"y":1.84},{"x":1610,"y":1.92},{"x":1620,"y":2.0},{"x":1630,"y":1.86},{"x":1640,"y":1.95},{"x":1650,"y":1.82},{"x":1660,"y":1.9},{"x":1670,"y":2.05},{"x":1680,"y":1.87},{"x":1690,"y":1.93},
{"x":1700,"y":1.85},{"x":1710,"y":1.98},{"x":1720,"y":1.8},{"x":1730,"y":1.92},{"x":1740,"y":1.88},{"x":1750,"y":2.03},{"x":1760,"y":1.84},{"x":1770,"y":1.95},{"x":1780,"y":1.9},{"x":1790,"y":1.82},
{"x":1800,"y":1.96},{"x":1810,"y":1.88},{"x":1820,"y":2.05},{"x":1830,"y":2.28},{"x":1840,"y":1.85},{"x":1850,"y":1.92},{"x":1860,"y":1.78},{"x":1870,"y":2.0},{"x":1880,"y":1.88},{"x":1890,"y":1.95},
{"x":1900,"y":1.86},{"x":1910,"y":2.02},{"x":1920,"y":1.9},{"x":1930,"y":1.8},{"x":1940,"y":1.97},{"x":1950,"y":1.88},{"x":1960,"y":1.94},{"x":1970,"y":2.08},{"x":1980,"y":1.85},{"x":1990,"y":1.92},
{"x":2000,"y":1.98},{"x":2010,"y":1.87},{"x":2020,"y":2.1},{"x":2030,"y":1.9},{"x":2040,"y":1.83},{"x":2050,"y":1.96},{"x":2060,"y":1.88},{"x":2070,"y":2.05},{"x":2080,"y":1.92},{"x":2090,"y":1.85},
{"x":2100,"y":1.95},{"x":2110,"y":1.88},{"x":2120,"y":2.02},{"x":2130,"y":1.9},{"x":2140,"y":1.84},{"x":2150,"y":1.97},{"x":2160,"y":1.86},{"x":2170,"y":1.93},{"x":2180,"y":1.8},{"x":2190,"y":1.95},
{"x":2200,"y":1.88},{"x":2210,"y":1.82},{"x":2220,"y":1.95},{"x":2230,"y":1.86},{"x":2240,"y":2.0},{"x":2250,"y":1.9},{"x":2260,"y":1.85},{"x":2270,"y":1.97},{"x":2280,"y":1.88},{"x":2290,"y":2.05},
{"x":2300,"y":1.93},{"x":2310,"y":2.27},{"x":2320,"y":2.1},{"x":2330,"y":1.9},{"x":2340,"y":1.98},{"x":2350,"y":1.85},{"x":2360,"y":1.93},{"x":2370,"y":1.8},{"x":2380,"y":1.95},{"x":2390,"y":1.88},
{"x":2400,"y":1.96},{"x":2410,"y":1.85},{"x":2420,"y":2.02},{"x":2430,"y":1.9},{"x":2440,"y":1.87},{"x":2450,"y":2.0},{"x":2460,"y":1.93},{"x":2470,"y":1.98},{"x":2480,"y":2.08},{"x":2490,"y":1.95},
{"x":2500,"y":2.0},
{"x":5,"y":0.65},{"x":15,"y":1.0},{"x":25,"y":0.85},{"x":35,"y":1.15},{"x":45,"y":1.05},{"x":55,"y":1.3},{"x":65,"y":1.15},{"x":75,"y":1.4},{"x":85,"y":1.7},{"x":95,"y":1.9},
{"x":105,"y":1.85},{"x":115,"y":1.78},{"x":125,"y":1.85},{"x":135,"y":1.72},{"x":145,"y":1.78},{"x":155,"y":1.7},{"x":165,"y":1.68},{"x":175,"y":1.75},{"x":185,"y":1.72},{"x":195,"y":1.82},
{"x":205,"y":1.85},{"x":215,"y":1.78},{"x":225,"y":1.8},{"x":235,"y":1.75},{"x":245,"y":1.85},{"x":255,"y":1.82},{"x":265,"y":1.9},{"x":275,"y":1.78},{"x":285,"y":1.82},{"x":295,"y":1.78},
{"x":305,"y":1.88},{"x":315,"y":1.82},{"x":325,"y":1.78},{"x":335,"y":1.85},{"x":345,"y":1.8},{"x":355,"y":1.92},{"x":365,"y":1.85},{"x":375,"y":1.95},{"x":385,"y":1.88},{"x":395,"y":1.82},
{"x":405,"y":1.92},{"x":415,"y":1.86},{"x":425,"y":1.92},{"x":435,"y":1.82},{"x":445,"y":1.88},{"x":455,"y":1.8},{"x":465,"y":1.95},{"x":475,"y":1.9},{"x":485,"y":1.85},{"x":495,"y":1.9},
{"x":505,"y":1.85},{"x":515,"y":1.95},{"x":525,"y":1.88},{"x":535,"y":1.85},{"x":545,"y":1.92},{"x":555,"y":1.88},{"x":565,"y":1.95},{"x":575,"y":1.85},{"x":585,"y":1.9},{"x":595,"y":1.82},
{"x":605,"y":1.95},{"x":615,"y":1.9},{"x":625,"y":1.88},{"x":635,"y":1.86},{"x":645,"y":1.92},{"x":655,"y":1.85},{"x":665,"y":1.96},{"x":675,"y":1.85},{"x":685,"y":1.92},{"x":695,"y":1.9},
{"x":705,"y":1.88},{"x":715,"y":1.95},{"x":725,"y":1.85},{"x":735,"y":1.88},{"x":745,"y":1.8},{"x":755,"y":1.92},{"x":765,"y":1.86},{"x":775,"y":1.92},{"x":785,"y":1.88},{"x":795,"y":1.82},
{"x":805,"y":1.95},{"x":815,"y":1.88},{"x":825,"y":1.84},{"x":835,"y":1.92},{"x":845,"y":1.88},{"x":855,"y":1.8},{"x":865,"y":1.88},{"x":875,"y":1.82},{"x":885,"y":1.95},{"x":895,"y":1.86},
{"x":905,"y":1.88},{"x":915,"y":1.92},{"x":925,"y":1.86},{"x":935,"y":1.88},{"x":945,"y":1.84},{"x":955,"y":1.95},{"x":965,"y":1.92},{"x":975,"y":1.84},{"x":985,"y":1.9},{"x":995,"y":1.82},
{"x":1005,"y":1.92},{"x":1015,"y":1.88},{"x":1025,"y":1.9},{"x":1035,"y":1.85},{"x":1045,"y":1.95},{"x":1055,"y":1.9},{"x":1065,"y":1.88},{"x":1075,"y":1.86},{"x":1085,"y":1.95},{"x":1095,"y":2.0},
{"x":1105,"y":1.95},{"x":1115,"y":1.85},{"x":1125,"y":1.9},{"x":1135,"y":1.92},{"x":1145,"y":1.9},{"x":1155,"y":1.95},{"x":1165,"y":1.98},{"x":1175,"y":1.92},{"x":1185,"y":1.9},{"x":1195,"y":1.85},
{"x":1205,"y":1.95},{"x":1215,"y":1.92},{"x":1225,"y":1.86},{"x":1235,"y":1.9},{"x":1245,"y":1.85},{"x":1255,"y":1.92},{"x":1265,"y":1.95},{"x":1275,"y":1.88},{"x":1285,"y":1.82},{"x":1295,"y":1.92},
{"x":1305,"y":1.9},{"x":1315,"y":1.93},{"x":1325,"y":1.88},{"x":1335,"y":1.9},{"x":1345,"y":1.85},{"x":1355,"y":1.95},{"x":1365,"y":1.9},{"x":1375,"y":1.92},{"x":1385,"y":1.86},{"x":1395,"y":1.88},
{"x":1405,"y":1.92},{"x":1415,"y":1.85},{"x":1425,"y":1.95},{"x":1435,"y":1.86},{"x":1445,"y":1.88},{"x":1455,"y":1.95},{"x":1465,"y":1.98},{"x":1475,"y":1.85},{"x":1485,"y":1.62},{"x":1495,"y":1.68},
{"x":1505,"y":1.85},{"x":1515,"y":1.82},{"x":1525,"y":1.92},{"x":1535,"y":1.88},{"x":1545,"y":1.92},{"x":1555,"y":1.85},{"x":1565,"y":1.9},{"x":1575,"y":1.92},{"x":1585,"y":1.95},{"x":1595,"y":1.88},
{"x":1605,"y":1.88},{"x":1615,"y":1.96},{"x":1625,"y":1.9},{"x":1635,"y":1.92},{"x":1645,"y":1.86},{"x":1655,"y":1.88},{"x":1665,"y":1.96},{"x":1675,"y":1.92},{"x":1685,"y":1.9},{"x":1695,"y":1.88},
{"x":1705,"y":1.92},{"x":1715,"y":1.88},{"x":1725,"y":1.86},{"x":1735,"y":1.95},{"x":1745,"y":1.92},{"x":1755,"y":1.9},{"x":1765,"y":1.88},{"x":1775,"y":1.92},{"x":1785,"y":1.85},{"x":1795,"y":1.9},
{"x":1805,"y":1.92},{"x":1815,"y":1.95},{"x":1825,"y":2.1},{"x":1835,"y":2.05},{"x":1845,"y":1.9},{"x":1855,"y":1.86},{"x":1865,"y":1.9},{"x":1875,"y":1.92},{"x":1885,"y":1.96},{"x":1895,"y":1.9},
{"x":1905,"y":1.95},{"x":1915,"y":1.92},{"x":1925,"y":1.86},{"x":1935,"y":1.9},{"x":1945,"y":1.92},{"x":1955,"y":1.9},{"x":1965,"y":2.0},{"x":1975,"y":1.95},{"x":1985,"y":1.9},{"x":1995,"y":1.95},
{"x":2005,"y":1.92},{"x":2015,"y":1.98},{"x":2025,"y":1.95},{"x":2035,"y":1.86},{"x":2045,"y":1.9},{"x":2055,"y":1.92},{"x":2065,"y":1.96},{"x":2075,"y":1.98},{"x":2085,"y":1.88},{"x":2095,"y":1.9},
{"x":2105,"y":1.9},{"x":2115,"y":1.95},{"x":2125,"y":1.96},{"x":2135,"y":1.86},{"x":2145,"y":1.9},{"x":2155,"y":1.92},{"x":2165,"y":1.88},{"x":2175,"y":1.86},{"x":2185,"y":1.88},{"x":2195,"y":1.9},
{"x":2205,"y":1.85},{"x":2215,"y":1.9},{"x":2225,"y":1.9},{"x":2235,"y":1.94},{"x":2245,"y":1.92},{"x":2255,"y":1.88},{"x":2265,"y":1.92},{"x":2275,"y":1.9},{"x":2285,"y":1.96},{"x":2295,"y":1.98},
{"x":2305,"y":2.12},{"x":2315,"y":2.2},{"x":2325,"y":1.98},{"x":2335,"y":1.95},{"x":2345,"y":1.9},{"x":2355,"y":1.9},{"x":2365,"y":1.86},{"x":2375,"y":1.88},{"x":2385,"y":1.9},{"x":2395,"y":1.92},
{"x":2405,"y":1.9},{"x":2415,"y":1.95},{"x":2425,"y":1.95},{"x":2435,"y":1.88},{"x":2445,"y":1.94},{"x":2455,"y":1.96},{"x":2465,"y":1.9},{"x":2475,"y":2.02},{"x":2485,"y":2.0},{"x":2495,"y":1.98}]
},
"layer": [
{
 "data": {"name": "L"},
 "mark": {"type": "line", "strokeWidth": 1.1},
 "encoding": {
  "x": {"field": "x", "type": "quantitative", "scale": {"domain": [0, 2500], "nice": false},
        "axis": {"orient": "bottom", "title": "Number of simulation frame", "titlePadding": 4, "titleFontSize": 19, "format": "d",
                 "values": [0,500,1000,1500,2000,2500], "ticks": false, "labelPadding": 5}},
  "y": {"field": "y", "type": "quantitative", "scale": {"domain": [0, 3], "nice": false, "zero": false},
        "axis": {"orient": "left", "title": "RMSD (Å)", "titlePadding": -1, "format": "~g",
                 "values": [0,0.5,1,1.5,2,2.5,3], "ticks": false, "labelPadding": 6}},
  "color": {"datum": "LACFVLAAV", "type": "nominal",
            "scale": {"domain": ["LACFVLAAV", "MAEVRSYCY", "FSDLYYLTM"], "range": ["#000000", "#ff0000", "#00ff00"]},
            "legend": {"orient": "none", "legendX": 27, "legendY": 23, "title": null, "symbolType": "stroke", "symbolSize": 400, "symbolStrokeWidth": 1, "labelFont": "Liberation Serif", "labelFontSize": 15, "labelColor": "black", "labelOffset": 14, "strokeColor": "#666", "padding": 5, "rowPadding": -2, "clipHeight": 14.5}}
 }
},
{
 "data": {"name": "M"},
 "mark": {"type": "line", "strokeWidth": 1.1},
 "encoding": {
  "x": {"field": "x", "type": "quantitative", "scale": {"domain": [0, 2500], "nice": false},
        "axis": {"orient": "top", "offset": -381, "title": null, "labels": false, "domain": false,
                 "values": [0,250,500,750,1000,1250,1500,1750,2000,2250,2500],
                 "tickSize": {"condition": {"test": "datum.value % 500 === 0", "value": 10}, "value": 5}}},
  "y": {"field": "y", "type": "quantitative", "scale": {"domain": [0, 3], "nice": false, "zero": false},
        "axis": {"orient": "right", "offset": -546, "title": null, "labels": false, "domain": false,
                 "values": [0,0.25,0.5,0.75,1,1.25,1.5,1.75,2,2.25,2.5,2.75,3],
                 "tickSize": {"condition": {"test": "datum.value % 0.5 === 0", "value": 10}, "value": 5}}},
  "color": {"datum": "MAEVRSYCY", "type": "nominal"}
 }
},
{
 "data": {"name": "G"},
 "mark": {"type": "line", "strokeWidth": 1.1},
 "encoding": {
  "x": {"field": "x", "type": "quantitative", "scale": {"domain": [0, 2500], "nice": false},
        "axis": {"orient": "bottom", "offset": -381, "title": null, "labels": false, "domain": false,
                 "values": [0,250,500,750,1000,1250,1500,1750,2000,2250,2500],
                 "tickSize": {"condition": {"test": "datum.value % 500 === 0", "value": 10}, "value": 5}}},
  "y": {"field": "y", "type": "quantitative", "scale": {"domain": [0, 3], "nice": false, "zero": false},
        "axis": {"orient": "left", "offset": -546, "title": null, "labels": false, "domain": false,
                 "values": [0,0.25,0.5,0.75,1,1.25,1.5,1.75,2,2.25,2.5,2.75,3],
                 "tickSize": {"condition": {"test": "datum.value % 0.5 === 0", "value": 10}, "value": 5}}},
  "color": {"datum": "FSDLYYLTM", "type": "nominal"}
 }
}
]
}
